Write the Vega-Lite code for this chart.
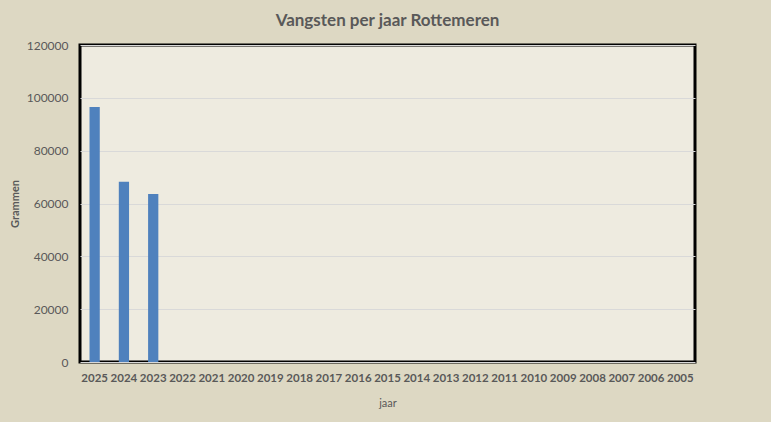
{
  "$schema": "https://vega.github.io/schema/vega-lite/v6.json",
  "width": 615,
  "height": 317,
  "autosize": {"type": "none"},
  "padding": {"left": 80, "top": 45, "right": 76, "bottom": 60},
  "background": "#DDD8C3",
  "title": {
    "text": "Vangsten per jaar Rottemeren",
    "font": "Lato",
    "fontSize": 17,
    "fontWeight": "bold",
    "color": "#595959",
    "frame": "group",
    "anchor": "middle",
    "offset": 9
  },
  "data": {
    "values": [
      {"jaar": "2025", "gram": 96500},
      {"jaar": "2024", "gram": 68200},
      {"jaar": "2023", "gram": 63600},
      {"jaar": "2022", "gram": 0},
      {"jaar": "2021", "gram": 0},
      {"jaar": "2020", "gram": 0},
      {"jaar": "2019", "gram": 0},
      {"jaar": "2018", "gram": 0},
      {"jaar": "2017", "gram": 0},
      {"jaar": "2016", "gram": 0},
      {"jaar": "2015", "gram": 0},
      {"jaar": "2014", "gram": 0},
      {"jaar": "2013", "gram": 0},
      {"jaar": "2012", "gram": 0},
      {"jaar": "2011", "gram": 0},
      {"jaar": "2010", "gram": 0},
      {"jaar": "2009", "gram": 0},
      {"jaar": "2008", "gram": 0},
      {"jaar": "2007", "gram": 0},
      {"jaar": "2006", "gram": 0},
      {"jaar": "2005", "gram": 0}
    ]
  },
  "mark": {"type": "bar", "color": "#4F81BD"},
  "encoding": {
    "x": {
      "field": "jaar",
      "type": "ordinal",
      "sort": null,
      "scale": {"paddingInner": 0.65, "paddingOuter": 0.325},
      "axis": {
        "title": "jaar",
        "labelAngle": 0,
        "domain": false,
        "ticks": false,
        "labelPadding": 10,
        "labelFont": "Lato",
        "labelFontSize": 11.5,
        "labelFontWeight": "bold",
        "labelColor": "#595959",
        "titleFont": "Lato",
        "titleFontSize": 11,
        "titleFontWeight": "normal",
        "titleColor": "#595959",
        "titlePadding": 14
      }
    },
    "y": {
      "field": "gram",
      "type": "quantitative",
      "scale": {"domain": [0, 120000], "nice": false},
      "axis": {
        "title": "Grammen",
        "values": [0, 20000, 40000, 60000, 80000, 100000, 120000],
        "format": "d",
        "domain": false,
        "ticks": false,
        "labelPadding": 12,
        "labelFont": "Lato",
        "labelFontSize": 12,
        "labelColor": "#595959",
        "titleFont": "Lato",
        "titleFontSize": 11,
        "titleFontWeight": "bold",
        "titleColor": "#595959",
        "titlePadding": 6,
        "gridColor": "#D9D9D9",
        "gridWidth": 1
      }
    }
  },
  "config": {
    "view": {"fill": "#EEEBE0", "stroke": "#000000", "strokeWidth": 3}
  }
}
